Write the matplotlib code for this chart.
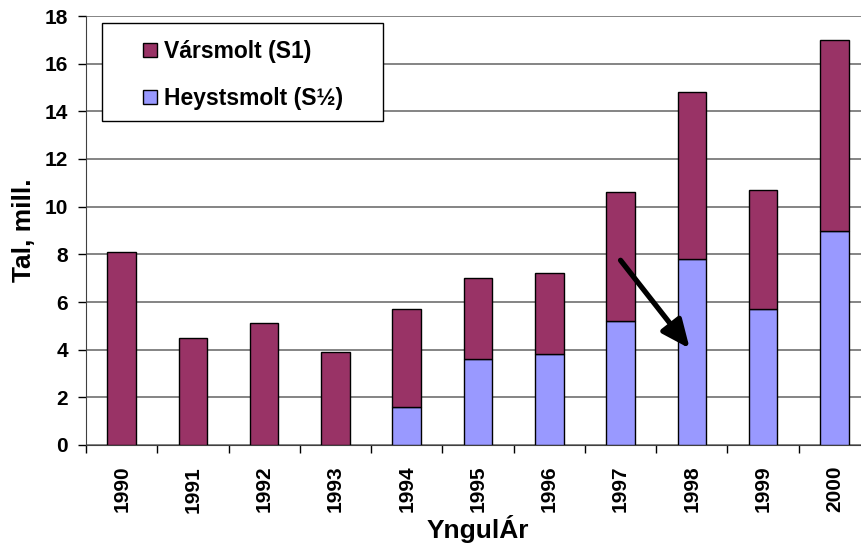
import matplotlib
matplotlib.use("Agg")
import matplotlib.pyplot as plt
from matplotlib.patches import Rectangle
import numpy as np

plt.rcParams['font.family'] = ['Liberation Sans', 'DejaVu Sans']
plt.rcParams['font.weight'] = 'bold'

# data (millions)
years = ['1990', '1991', '1992', '1993', '1994', '1995', '1996',
         '1997', '1998', '1999', '2000']
heyst = [0, 0, 0, 0, 1.6, 3.6, 3.8, 5.2, 7.8, 5.7, 9.0]
total = [8.1, 4.5, 5.1, 3.9, 5.7, 7.0, 7.2, 10.6, 14.8, 10.7, 17.0]
vars_ = [t - h for t, h in zip(total, heyst)]

W, H = 862, 551
fig = plt.figure(figsize=(W / 100, H / 100), dpi=100)
ax = fig.add_axes([86 / W, 1 - 445 / H, 784 / W, 429 / H])

x = np.arange(len(years))
w = 0.4
b1 = ax.bar(x, heyst, w, color='#9999FF', edgecolor='black', linewidth=1,
            label='Heystsmolt (S½)', zorder=3)
b2 = ax.bar(x, vars_, w, bottom=heyst, color='#993366', edgecolor='black',
            linewidth=1, label='Vársmolt (S1)', zorder=3)

ax.set_xlim(-0.5, len(years) - 0.5)
ax.set_ylim(0, 18)
ax.set_yticks(range(0, 19, 2))
ax.yaxis.grid(True, color='#707070', linewidth=1.2, zorder=0)
ax.set_xticks(x)
ax.set_xticklabels(years, rotation=90, fontsize=15, fontweight='bold')
ax.set_xticks(np.arange(-0.5, len(years), 1), minor=True)
ax.tick_params(axis='x', which='major', length=0, pad=15)
ax.tick_params(axis='x', which='minor', length=6, width=1, direction='out')
ax.tick_params(axis='y', labelsize=15, length=6, width=1, direction='out', pad=7)
for lab in ax.get_yticklabels():
    lab.set_fontweight('bold')

for s in ['top', 'right']:
    ax.spines[s].set_visible(False)
for s in ['left', 'bottom']:
    ax.spines[s].set_color('#404040')

ax.set_ylabel('Tal, mill.', fontsize=19, fontweight='bold', labelpad=6)
ax.set_xlabel('YngulÁr', fontsize=19, fontweight='bold', labelpad=2)

# legend box (Excel style: wide left/right padding)
fig.patches.append(Rectangle((102 / W, 1 - 121 / H), 281 / W, 98 / H,
                             transform=fig.transFigure, facecolor='white',
                             edgecolor='black', linewidth=1, zorder=4))
leg = fig.legend(handles=[b2, b1], loc='upper left',
                 bbox_to_anchor=(143 / W, 1 - 40 / H),
                 fontsize=16.5, frameon=False,
                 handlelength=0.62, handleheight=0.62, labelspacing=1.05,
                 borderpad=0, handletextpad=0.3, borderaxespad=0)
leg.set_zorder(5)
for t in leg.get_texts():
    t.set_fontweight('bold')

# arrow from 1997 down to the 1998 bar
ax.annotate('', xy=(7.97, 4.05), xytext=(7.0, 7.75),
            arrowprops=dict(arrowstyle='-|>,head_width=0.75,head_length=1.7',
                            color='black', lw=3.8, shrinkA=0, shrinkB=0),
            zorder=6)

fig.savefig('out.png', dpi=100)
